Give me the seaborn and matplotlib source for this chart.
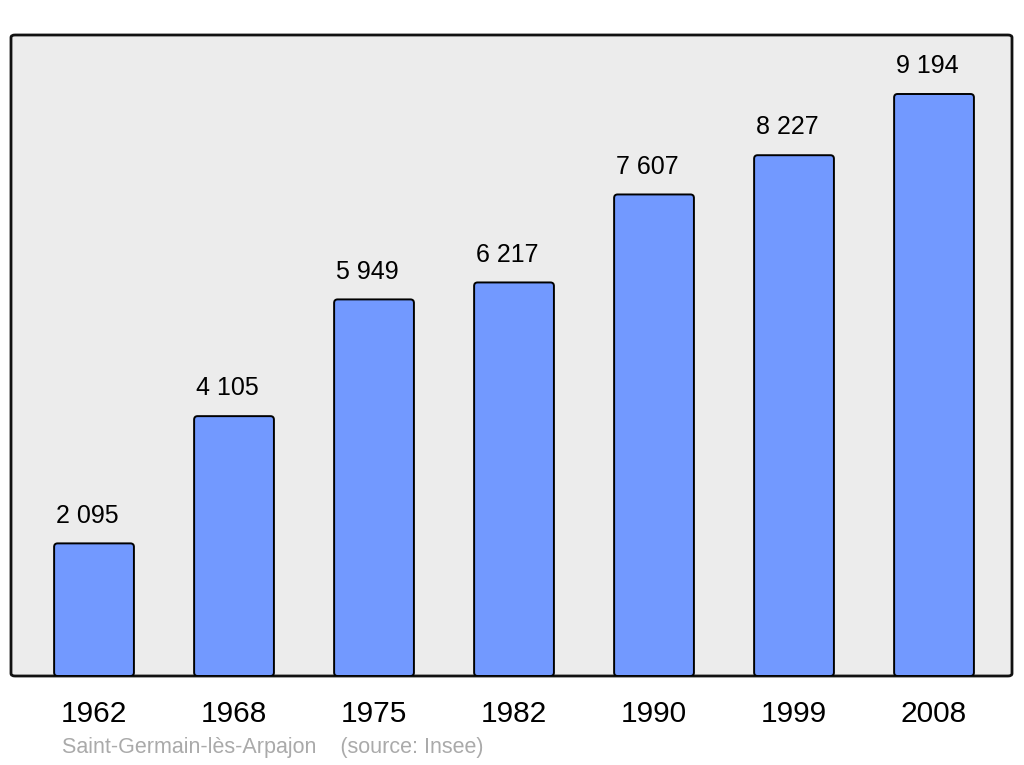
import pandas as pd
import matplotlib.pyplot as plt
import seaborn as sns
from matplotlib.patches import FancyBboxPatch

years = ["1962", "1968", "1975", "1982", "1990", "1999", "2008"]
population = [2095, 4105, 5949, 6217, 7607, 8227, 9194]
labels = ["2 095", "4 105", "5 949", "6 217", "7 607", "8 227", "9 194"]

df = pd.DataFrame({"year": years, "pop": population})

sns.set_style("white")
plt.rcParams["font.family"] = ["Liberation Sans", "DejaVu Sans"]

fig = plt.figure(figsize=(10.24, 7.65), dpi=100)
ax = fig.add_axes([11 / 1024, 1 - 676 / 765, 1001 / 1024, 641 / 765])
ax.set_facecolor("none")

# rounded grey frame behind the bars
frame = FancyBboxPatch((0, 0), 1, 1, boxstyle="round,pad=0,rounding_size=0.004",
                       transform=ax.transAxes, facecolor="#ececec",
                       edgecolor="#111111", linewidth=2, zorder=0, clip_on=False)
ax.add_patch(frame)

bar_w = 0.57
sns.barplot(data=df, x="year", y="pop", color="#7299ff", saturation=1,
            width=bar_w, edgecolor="black", linewidth=1.4, ax=ax, zorder=2)

xlim = (-0.593, 6.557)
ylim = (0, 10126)
ax.set_xlim(*xlim)
ax.set_ylim(*ylim)

# swap the square bars for slightly rounded ones
aspect = ((ylim[1] - ylim[0]) / 641) / ((xlim[1] - xlim[0]) / 1001)
for p in list(ax.patches[1:]):
    x, y = p.get_x(), p.get_y()
    w, h = p.get_width(), p.get_height()
    rb = FancyBboxPatch((x, y), w, h,
                        boxstyle="round,pad=0,rounding_size=0.025",
                        mutation_aspect=aspect, facecolor=p.get_facecolor(),
                        edgecolor="black", linewidth=1.4, zorder=2)
    p.remove()
    ax.add_patch(rb)

for i, (v, lab) in enumerate(zip(population, labels)):
    ax.annotate(lab, (i - bar_w / 2, v), xytext=(1.5, 15), textcoords="offset points",
                ha="left", va="baseline", fontsize=18, color="black")

for s in ax.spines.values():
    s.set_visible(False)
ax.set_yticks([])
ax.set_xlabel("")
ax.set_ylabel("")
ax.tick_params(axis="x", length=0, pad=17.5, labelsize=21.5, labelcolor="black")

fig.text(62 / 1024, 1 - 747 / 765, "Saint-Germain-lès-Arpajon    (source: Insee)",
         fontsize=15.5, color="#aaaaaa", ha="left", va="center")

fig.savefig("out.png", dpi=100)
